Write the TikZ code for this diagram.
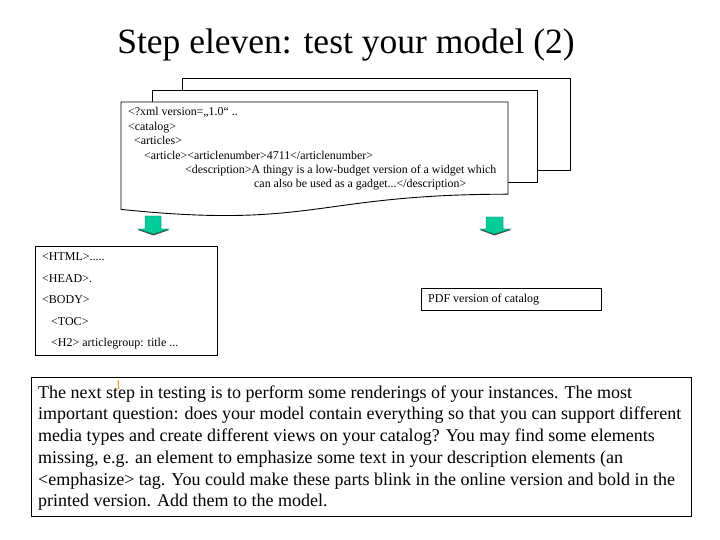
\documentclass[tikz,border=0pt]{standalone}
\usepackage{fontspec}
\setmainfont{Liberation Serif}
\definecolor{arrowgreen}{RGB}{0,204,153}
\definecolor{numorange}{RGB}{240,150,40}
\begin{document}
\begin{tikzpicture}[x=1pt,y=1pt,
  frame/.style={draw=black,line width=0.9pt},
  pagebox/.style={draw=black,line width=0.9pt,fill=white},
  xmlline/.style={anchor=base west,inner sep=0pt,font=\fontsize{11.9}{13}\selectfont},
  htmlline/.style={anchor=base west,inner sep=0pt,font=\fontsize{12}{13}\selectfont},
  bodyline/.style={anchor=base west,inner sep=0pt,font=\fontsize{18}{21}\selectfont},
  downarrow/.style={fill=arrowgreen,draw=arrowgreen!60!black,line width=0.4pt}]
\useasboundingbox (0,0) rectangle (720,540);
\fill[white] (0,0) rectangle (720,540);
% title
\node[font=\fontsize{35.5}{40}\selectfont,inner sep=0pt] (title) at (346,495) {Step eleven: test your model (2)};
% stacked pages
\draw[pagebox] (182,462) rectangle (570,370);
\draw[pagebox] (152,450) rectangle (537,358);
\draw[pagebox] (121,438) -- (508,438) -- (508,345.8)
  .. controls (314.5,345.8) and (314.5,310.6) .. (121,330.6) -- cycle;
\node[xmlline] (x1) at (128,424) {<?xml version=„1.0“ ..};
\node[xmlline] (x2) at (128,409.5) {<catalog>};
\node[xmlline] (x3) at (134,395) {<articles>};
\node[xmlline] (x4) at (144,380.5) {<article><articlenumber>4711</articlenumber>};
\node[xmlline] (x5) at (185,366) {<description>A thingy is a low-budget version of a widget which};
\node[xmlline] (x6) at (254,352) {can also be used as a gadget...</description>};
% arrows
\fill[black!70] (145,323) -- (161,323) -- (161,310) -- (169,310) -- (153.5,304.5) -- (138,310) -- (145,310) -- cycle;
\draw[downarrow] (145,324) -- (161,324) -- (161,311) -- (169,311) -- (153.5,306) -- (138,311) -- (145,311) -- cycle;
\fill[black!70] (486,322) -- (503,322) -- (503,310) -- (511,310) -- (494.5,304.5) -- (480,310) -- (486,310) -- cycle;
\draw[downarrow] (486,323) -- (503,323) -- (503,311) -- (511,311) -- (494.5,306) -- (480,311) -- (486,311) -- cycle;
% HTML box
\draw[frame] (35,294) rectangle (217,185);
\node[htmlline] (h1) at (42,279) {<HTML>.....};
\node[htmlline] (h2) at (42,257.5) {<HEAD>.};
\node[htmlline] (h3) at (42,236) {<BODY>};
\node[htmlline] (h4) at (51,214.5) {<TOC>};
\node[htmlline] (h5) at (51,193) {<H2> articlegroup: title ...};
% PDF box
\draw[frame] (421,252) rectangle (601,230);
\node[htmlline] (pdf) at (428,237.5) {PDF version of catalog};
% bottom text box
\draw[frame] (31,163) rectangle (691,24);
\node[bodyline] (b1) at (38,141) {The next step in testing is to perform some renderings of your instances. The most};
\node[bodyline] (b2) at (38,120) {important question: does your model contain everything so that you can support different};
\node[bodyline] (b3) at (38,98.5) {media types and create different views on your catalog? You may find some elements};
\node[bodyline] (b4) at (38,76.5) {missing, e.g. an element to emphasize some text in your description elements (an};
\node[bodyline] (b5) at (38,54.5) {<emphasize> tag. You could make these parts blink in the online version and bold in the};
\node[bodyline] (b6) at (38,33) {printed version. Add them to the model.};
\node[anchor=base west,inner sep=0pt,text=numorange,font=\fontsize{13}{13}\selectfont] (num) at (115,150) {1};
\end{tikzpicture}
\end{document}
